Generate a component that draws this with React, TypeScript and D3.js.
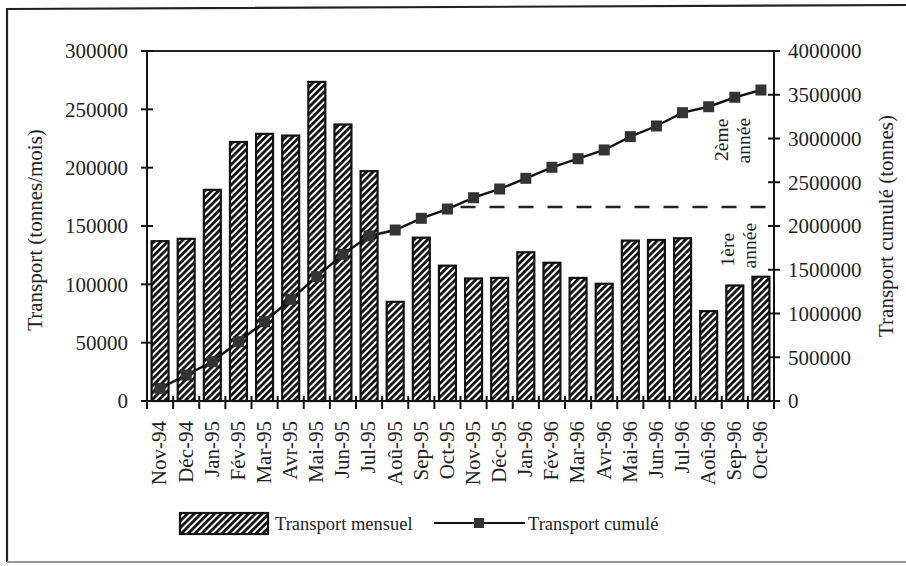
import React from "react";
import * as d3 from "d3";

const months = [
  "Nov-94", "Déc-94", "Jan-95", "Fév-95", "Mar-95", "Avr-95", "Mai-95", "Jun-95",
  "Jul-95", "Aoû-95", "Sep-95", "Oct-95", "Nov-95", "Déc-95", "Jan-96", "Fév-96",
  "Mar-96", "Avr-96", "Mai-96", "Jun-96", "Jul-96", "Aoû-96", "Sep-96", "Oct-96",
];
const monthly = [
  137000, 139000, 181000, 222000, 229000, 227500, 273500, 237000,
  197000, 85000, 140000, 116000, 105000, 105500, 127500, 118500,
  105500, 100500, 137500, 138000, 139500, 77000, 99000, 106500,
];
const cumulative = [
  145000, 297000, 449000, 678000, 906000, 1162000, 1421000, 1676000,
  1886000, 1954000, 2088000, 2194000, 2323000, 2423000, 2545000, 2671000,
  2769000, 2869000, 3021000, 3143000, 3295000, 3363000, 3471000, 3554000,
];
const leftTicks = [0, 50000, 100000, 150000, 200000, 250000, 300000];
const rightTicks = [0, 500000, 1000000, 1500000, 2000000, 2500000, 3000000, 3500000, 4000000];
const firstYearTotal = 2217000;
const firstYearEnd = "Oct-95";

const W = 906;
const H = 566;
const M = { left: 147, right: 774, top: 51, bottom: 401 };
const FONT = "'Liberation Serif', 'Times New Roman', serif";

export default function App() {
  const x = d3.scaleBand<string>().domain(months).range([M.left, M.right]).paddingInner(0.35).paddingOuter(0.175);
  const yL = d3.scaleLinear().domain([0, 300000]).range([M.bottom, M.top]);
  const yR = d3.scaleLinear().domain([0, 4000000]).range([M.bottom, M.top]);
  const step = x.step();
  const cx = (m: string) => (x(m) as number) + x.bandwidth() / 2;

  const line = d3
    .line<number>()
    .x((_, i) => cx(months[i]))
    .y((d) => yR(d));

  const boundaries = d3.range(months.length + 1).map((i) => M.left + i * step);
  const dashStart = cx(firstYearEnd) + step / 2;

  return (
    <svg width={W} height={H} style={{ display: "block", position: "absolute", left: 0, top: 0, background: "#fff" }}>
      <defs>
        <pattern id="hatch" patternUnits="userSpaceOnUse" width={4.8} height={4.8} patternTransform="rotate(45)">
          <rect width={4.8} height={4.8} fill="#fff" />
          <rect width={2.8} height={4.8} fill="#111" />
        </pattern>
      </defs>
      {/* frame */}
      <polyline points="906,5 7,9 7,562" fill="none" stroke="#222" strokeWidth={2.2} />
      <line x1={7} y1={562} x2={906} y2={562} stroke="#999" strokeWidth={2} />

      {/* top border of plot */}
      <line x1={M.left} y1={M.top} x2={M.right} y2={M.top} stroke="#222" strokeWidth={2} />

      {/* bars */}
      {months.map((m, i) => (
        <rect
          key={m}
          x={x(m)}
          y={yL(monthly[i])}
          width={x.bandwidth()}
          height={M.bottom - yL(monthly[i])}
          fill="url(#hatch)"
          stroke="#111"
          strokeWidth={2.2}
        />
      ))}

      {/* dashed first-year line */}
      <line
        x1={dashStart}
        x2={M.right}
        y1={yR(firstYearTotal)}
        y2={yR(firstYearTotal)}
        stroke="#222"
        strokeWidth={2.5}
        strokeDasharray="15 14"
      />

      {/* cumulative line */}
      <path d={line(cumulative) || ""} fill="none" stroke="#111" strokeWidth={2.4} />
      {cumulative.map((v, i) => (
        <rect key={i} x={cx(months[i]) - 5.5} y={yR(v) - 5.5} width={11} height={11} fill="#333" />
      ))}

      {/* axes */}
      <line x1={M.left} y1={M.top} x2={M.left} y2={M.bottom} stroke="#111" strokeWidth={2} />
      <line x1={M.right} y1={M.top} x2={M.right} y2={M.bottom} stroke="#111" strokeWidth={2} />
      <line x1={M.left} y1={M.bottom} x2={M.right} y2={M.bottom} stroke="#111" strokeWidth={2.2} />

      {leftTicks.map((t) => (
        <g key={t}>
          <line x1={M.left - 6} x2={M.left + 6} y1={yL(t)} y2={yL(t)} stroke="#111" strokeWidth={2} />
          <text x={M.left - 19} y={yL(t)} dy="0.35em" textAnchor="end" fontFamily={FONT} fontSize={21} fill="#222">
            {t}
          </text>
        </g>
      ))}
      {rightTicks.map((t) => (
        <g key={t}>
          <line x1={M.right - 6} x2={M.right + 6} y1={yR(t)} y2={yR(t)} stroke="#111" strokeWidth={2} />
          <text x={M.right + 14} y={yR(t)} dy="0.35em" textAnchor="start" fontFamily={FONT} fontSize={21} fill="#222">
            {t}
          </text>
        </g>
      ))}
      {boundaries.map((b, i) => (
        <line key={i} x1={b} x2={b} y1={M.bottom - 5} y2={M.bottom + 8} stroke="#111" strokeWidth={2} />
      ))}
      {months.map((m) => (
        <text
          key={m}
          transform={`translate(${cx(m) - 1},${M.bottom + 20}) rotate(-90)`}
          dy="0.35em"
          textAnchor="end"
          fontFamily={FONT}
          fontSize={21}
          fill="#222"
        >
          {m}
        </text>
      ))}

      {/* axis titles */}
      <text transform={`translate(35,${(M.top + M.bottom) / 2 + 4}) rotate(-90)`} dy="0.35em" textAnchor="middle" fontFamily={FONT} fontSize={21} fill="#222">
        Transport (tonnes/mois)
      </text>
      <text transform={`translate(886,${(M.top + M.bottom) / 2}) rotate(-90)`} dy="0.35em" textAnchor="middle" fontFamily={FONT} fontSize={21} fill="#222">
        Transport cumulé (tonnes)
      </text>

      {/* annotations */}
      {[
        { t: "2ème", dx: -53, v: 2985000 },
        { t: "année", dx: -31, v: 2975000 },
        { t: "1ère", dx: -47, v: 1730000 },
        { t: "année", dx: -25, v: 1775000 },
      ].map((a, i) => (
        <text
          key={i}
          transform={`translate(${M.right + a.dx},${yR(a.v)}) rotate(-90)`}
          dy="0.35em"
          textAnchor="middle"
          fontFamily={FONT}
          fontSize={19.5}
          fill="#222"
        >
          {a.t}
        </text>
      ))}

      {/* legend */}
      <rect x={180} y={513} width={88} height={21} fill="url(#hatch)" stroke="#111" strokeWidth={2.2} />
      <text x={275} y={530} fontFamily={FONT} fontSize={18.5} fill="#222">
        Transport mensuel
      </text>
      <line x1={434} x2={525} y1={523} y2={523} stroke="#111" strokeWidth={2} />
      <rect x={474} y={518} width={10} height={10} fill="#333" />
      <text x={528} y={530} fontFamily={FONT} fontSize={18.5} fill="#222">
        Transport cumulé
      </text>
    </svg>
  );
}
